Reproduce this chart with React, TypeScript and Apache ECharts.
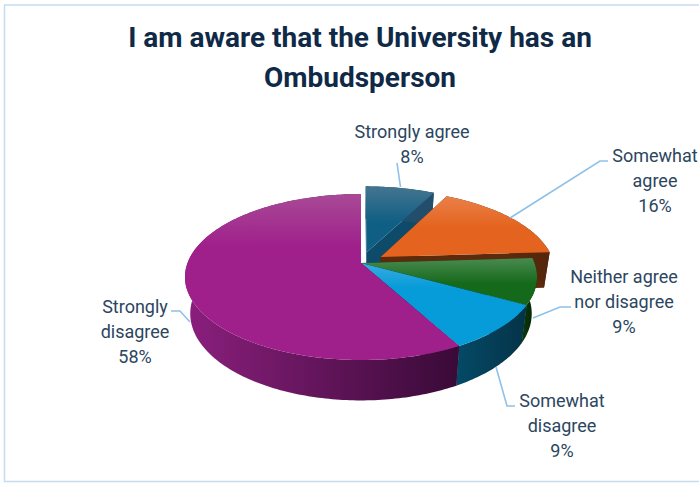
import React, { useEffect, useRef } from "react";
import * as echarts from "echarts";

const titleText = "I am aware that the University has an\nOmbudsperson";
const categories = ["Strongly agree", "Somewhat agree", "Neither agree nor disagree", "Somewhat disagree", "Strongly disagree"];
const wrappedLabels = ["Strongly agree", "Somewhat\nagree", "Neither agree\nnor disagree", "Somewhat\ndisagree", "Strongly\ndisagree"];
const shares = [7.6, 16.4, 9.0, 9.0, 58.0];
const exploded = [0.137, 0.137, 0, 0, 0];

const labelAnchors = [[412, 144], [655, 180], [624, 301], [562, 425], [135, 331]];
const leaderLines = [
  [[397, 163], [400.5, 187]],
  [[608, 161], [600, 161], [510, 218]],
  [[571, 307], [560, 307], [533, 318]],
  [[515, 406], [507, 406], [496, 367]],
  [[171, 311], [180, 311], [190, 322]],
];

const topFills = [
  ["#44758f", "#0f5e84", 0.55],
  ["#ea8049", "#e4641f", 0.5],
  ["#4a8a50", "#14691a", 0.55],
  ["#3aabe0", "#069cd9", 0.3],
  ["#a84a96", "#9f1f8b", 0.32],
];
const wallFills = [
  ["#234e6b", "#234e6b"],
  ["#63300f", "#55260b"],
  ["#0b3a0b", "#041f04"],
  ["#044a66", "#053347"],
  ["#8b1f7d", "#390a37"],
];
const faceFills = ["#0e4a69", "#5c2a0c", "#0a2f0a", "#043f57", "#6a1560"];

const CX = 361, CY = 263, RX = 173.5, RY = 80.6, P = 0.169, DEPTH = 36, BASE = 0.97;
const RAD = Math.PI / 180;

function project(u: number, v: number, lower: boolean) {
  const s = 1 / (1 - P * v);
  const f = lower ? BASE : 1;
  return [CX + RX * u * s * f, CY + RY * v * s * f + (lower ? DEPTH * s : 0)];
}

function sliceGeometry(index: number) {
  const total = shares.reduce((a, b) => a + b, 0);
  const before = shares.slice(0, index).reduce((a, b) => a + b, 0);
  const start = (before / total) * 360;
  const end = ((before + shares[index]) / total) * 360;
  const mid = ((start + end) / 2) * RAD;
  const ou = exploded[index] * Math.sin(mid);
  const ov = -exploded[index] * Math.cos(mid);
  const rim = (lower: boolean) => {
    const pts: number[][] = [];
    const steps = Math.max(2, Math.ceil(end - start));
    for (let i = 0; i <= steps; i++) {
      const a = (start + ((end - start) * i) / steps) * RAD;
      pts.push(project(ou + Math.sin(a), ov - Math.cos(a), lower));
    }
    return pts;
  };
  return { apex: project(ou, ov, false), apexLow: project(ou, ov, true), top: rim(false), low: rim(true) };
}

function vertical(c: any) {
  return {
    type: "linear", x: 0, y: 0, x2: 0, y2: 1,
    colorStops: [{ offset: 0, color: c[0] }, { offset: c[2], color: c[1] }, { offset: 1, color: c[1] }],
  };
}
function horizontal(c: string[]) {
  return {
    type: "linear", x: 0, y: 0, x2: 1, y2: 0,
    colorStops: [{ offset: 0, color: c[0] }, { offset: 1, color: c[1] }],
  };
}

function renderSlice(params: any) {
  const i = params.dataIndex;
  const g = sliceGeometry(i);
  const n = g.top.length - 1;
  const poly = (points: number[][], fill: any) => ({
    type: "polygon",
    shape: { points },
    style: { fill, stroke: "none" },
  });
  return {
    type: "group",
    children: [
      poly([g.apex, g.top[0], g.low[0], g.apexLow], faceFills[i]),
      poly([g.apex, g.top[n], g.low[n], g.apexLow], faceFills[i]),
      poly([...g.top, ...g.low.slice().reverse()], horizontal(wallFills[i])),
      poly([g.apex, ...g.top], vertical(topFills[i])),
    ],
  };
}

function renderLabel(params: any) {
  const i = params.dataIndex;
  return {
    type: "group",
    children: [
      {
        type: "polyline",
        shape: { points: leaderLines[i] },
        style: { fill: "none", stroke: "#8fc1e8", lineWidth: 1.6 },
      },
      {
        type: "text",
        style: {
          text: `${wrappedLabels[i]}\n${Math.round(shares[i])}%`,
          x: labelAnchors[i][0],
          y: labelAnchors[i][1],
          align: "center",
          verticalAlign: "middle",
          lineHeight: 25,
          fill: "#2b4660",
          font: '400 18px Roboto',
        },
      },
    ],
  };
}

export default function App() {
  const ref = useRef<HTMLDivElement>(null);
  useEffect(() => {
    const chart = echarts.init(ref.current!, undefined, { renderer: "svg" });
    chart.setOption({
      animation: false,
      backgroundColor: "#ffffff",
      title: {
        text: titleText,
        left: 355,
        top: 12,
        textAlign: "center",
        textStyle: { fontFamily: "Roboto", fontWeight: 700, fontSize: 28, lineHeight: 40, color: "#0f2a47" },
      },
      graphic: [
        {
          type: "rect",
          silent: true,
          shape: { x: 4.5, y: 5, width: 760, height: 476.5 },
          style: { fill: "none", stroke: "#c6dcef", lineWidth: 1.5 },
        },
      ],
      series: [
        {
          type: "custom",
          name: "slices",
          coordinateSystem: "none",
          silent: true,
          z: 2,
          renderItem: renderSlice,
          data: categories.map((name, i) => ({ name, value: shares[i] })),
        },
        {
          type: "custom",
          name: "labels",
          coordinateSystem: "none",
          silent: true,
          z: 3,
          renderItem: renderLabel,
          data: categories.map((name, i) => ({ name, value: shares[i] })),
        },
      ],
    });
    return () => chart.dispose();
  }, []);
  return <div ref={ref} style={{ position: "fixed", left: 0, top: 0, width: 699, height: 483 }} />;
}
